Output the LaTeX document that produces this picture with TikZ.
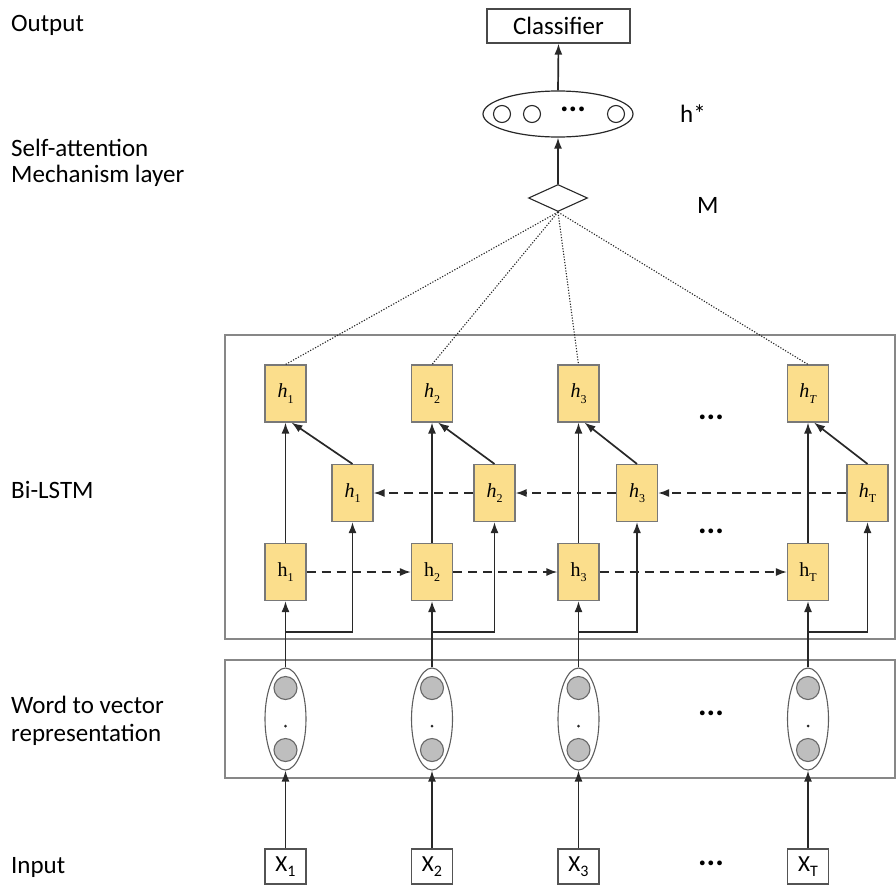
\documentclass[tikz,border=0pt]{standalone}
\usepackage{fontspec}
\setmainfont{Carlito}
\newfontfamily\serif{Liberation Serif}
\usetikzlibrary{shapes.geometric,arrows.meta}
\definecolor{yel}{RGB}{251,222,140}
\definecolor{ybord}{RGB}{120,120,120}
\definecolor{frame}{RGB}{135,135,135}
\definecolor{ln}{RGB}{40,40,40}
\definecolor{gfill}{RGB}{190,190,190}
\newcommand\hsub[2]{#1\raisebox{-0.28em}{\fontsize{12}{12}\selectfont #2}}
\newcommand\xsub[2]{#1\raisebox{-0.22em}{\fontsize{16}{16}\selectfont #2}}
\tikzset{
  lbl/.style={anchor=west,font=\fontsize{25}{29}\selectfont,inner sep=0},
  ybox/.style={draw=ybord,fill=yel,minimum width=41,minimum height=57,inner sep=0,line width=1.1},
  arr/.style={draw=ln,line width=1.7,-{Latex[length=11,width=8]}},
  darr/.style={draw=ln,line width=1.7,dash pattern=on 9 off 6,-{Latex[length=11,width=8]}},
  dotl/.style={draw=ln,line width=1.1,dash pattern=on 1.2 off 1.6},
  dots/.style={font=\fontsize{32}{32}\selectfont\bfseries,inner sep=0},
  inbox/.style={draw=ln!80,line width=1.1,minimum width=41,minimum height=35,inner sep=0,font=\fontsize{23}{23}\selectfont},
}
\begin{document}
\begin{tikzpicture}[x=1pt,y=-1pt]
\useasboundingbox (0,0) rectangle (896,886);
% left labels
\node[lbl] (lout) at (11,25) {Output};
\node[lbl] (lsa1) at (11,148) {Self-attention};
\node[lbl] (lsa2) at (11,176) {Mechanism layer};
\node[lbl] (lbi) at (11,490) {Bi-LSTM};
\node[lbl] (lw1) at (11,705) {Word to vector};
\node[lbl] (lw2) at (11,735) {representation};
\node[lbl] (lin) at (11,867) {Input};
% frames
\draw[frame,line width=1.4] (225,335) rectangle (895,639);
\draw[frame,line width=1.4] (225,660) rectangle (895,778);
% top part
\node[draw=ln!85,line width=1.2,minimum width=143,minimum height=34,inner sep=0,font=\fontsize{25}{29}\selectfont] (cls) at (558.5,26) {Classifier};
\node[ellipse,draw=ln,line width=1.2,minimum width=150,minimum height=46,inner sep=0] (hs) at (558,114) {};
\node[circle,draw=ln,line width=1.1,minimum size=17,inner sep=0] (c1) at (502,114) {};
\node[circle,draw=ln,line width=1.1,minimum size=17,inner sep=0] (c2) at (532,114) {};
\node[circle,draw=ln,line width=1.1,minimum size=17,inner sep=0] (c3) at (616,114) {};
\node[dots] (cd) at (573,109) {...};
\node[diamond,draw=ln,line width=1.1,minimum width=59,minimum height=27,inner sep=0] (dia) at (558,198) {};
\node[lbl] (lh) at (680,114) {h*};
\node[lbl] (lm) at (697,205) {M};
\draw[arr] (dia.north) -- (hs.south);
\draw[arr] (hs.north) -- (cls.south);
% columns
\foreach \i/\x/\bx/\s/\ts in {1/285.5/352.5/1/1, 2/432/494.5/2/2, 3/578.5/637/3/3, 4/808/867.5/T/\textit{T}}{
  \node[ybox] (top\i) at (\x,393.5) {\serif\fontsize{20}{20}\selectfont\hsub{\textit{h}}{\ts}};
  \node[ybox] (bk\i) at (\bx,493) {\serif\fontsize{20}{20}\selectfont\hsub{\textit{h}}{\s}};
  \node[ybox] (fw\i) at (\x,572) {\raisebox{-5pt}{\serif\fontsize{20}{20}\selectfont\hsub{h}{\s}}};
  \node[ellipse,draw=ln!75,line width=1.1,minimum width=41,minimum height=102,inner sep=0] (wv\i) at (\x,719) {};
  \node[circle,draw=ln!70,fill=gfill,line width=1.1,minimum size=23,inner sep=0] (ga\i) at (\x,688) {};
  \node[circle,draw=ln!70,fill=gfill,line width=1.1,minimum size=23,inner sep=0] (gb\i) at (\x,750) {};
  \node[circle,fill=ln,minimum size=3,inner sep=0] (gd\i) at (\x,726) {};
  \node[inbox] (in\i) at (\x,866.5) {\xsub{X}{\s}};
  \coordinate (br\i) at (\x,632);
  \draw[arr] (in\i.north) -- (wv\i.south);
  \draw[arr] (wv\i.north) -- (fw\i.south);
  \draw[arr] (br\i) -| (bk\i.south);
  \draw[arr] (fw\i.north) -- (top\i.south);
  \draw[arr] (bk\i.north) -- ([xshift=6]top\i.south);
  \draw[dotl] (dia.south) -- (top\i.north);
}
\draw[darr] (fw1.east) -- (fw2.west);
\draw[darr] (fw2.east) -- (fw3.west);
\draw[darr] (fw3.east) -- (fw4.west);
\draw[darr] (bk4.west) -- (bk3.east);
\draw[darr] (bk3.west) -- (bk2.east);
\draw[darr] (bk2.west) -- (bk1.east);
% ellipses
\node[dots] (d1) at (711,417) {...};
\node[dots] (d2) at (711,531) {...};
\node[dots] (d3) at (711,713) {...};
\node[dots] (d4) at (711,863) {...};
\end{tikzpicture}
\end{document}
